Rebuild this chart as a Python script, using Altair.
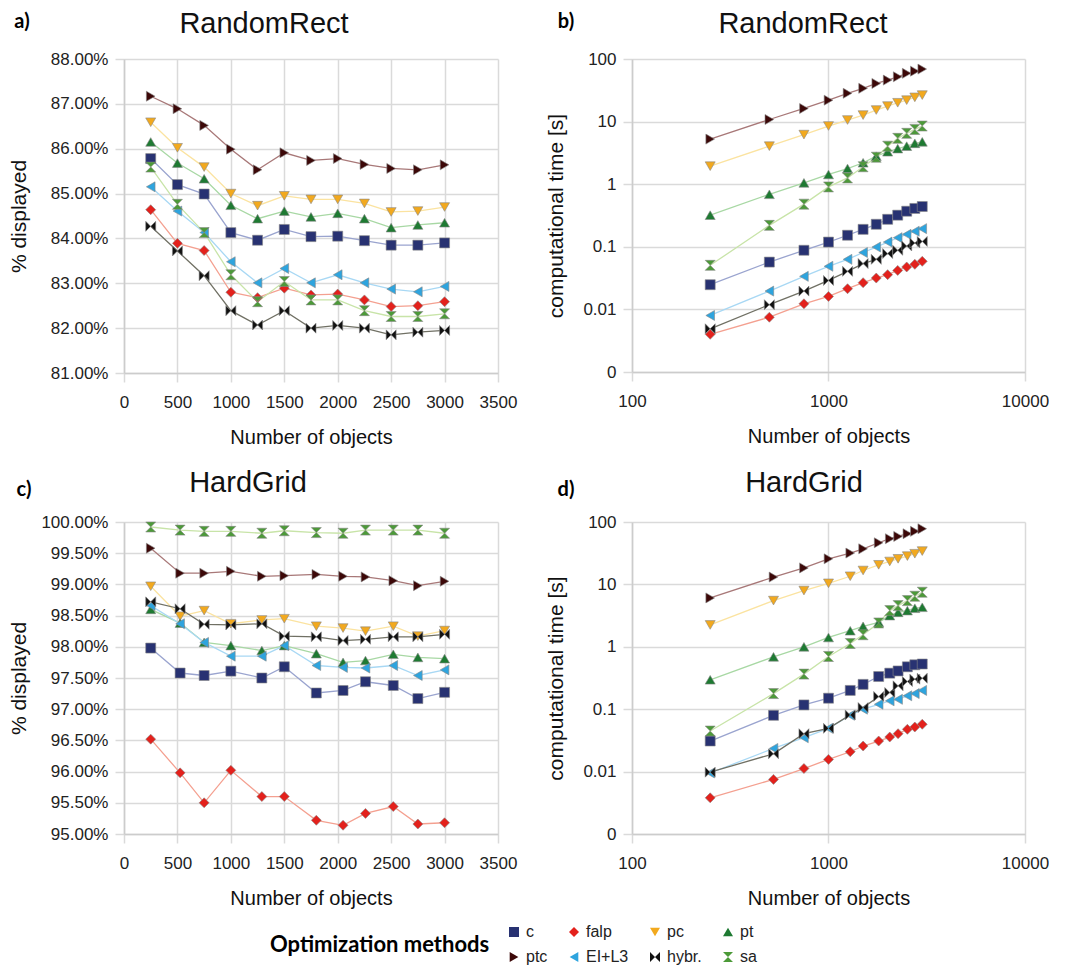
import altair as alt
import pandas as pd

methods = ["c", "falp", "pc", "pt", "ptc", "EI+L3", "hybr.", "sa"]
fill_colors = ["#283272", "#e3211c", "#f2a91e", "#1e7a32", "#3c0808", "#2ea4de", "#111111", "#4c9a38"]
line_colors = ["#9aa4cf", "#f4a090", "#fbe3a0", "#a8d8a4", "#a87878", "#a8d8f4", "#707064", "#c8e4a8"]
shapes = ["square", "diamond", "triangle-down", "triangle-up", "triangle-right", "triangle-left",
          "M-1,-1L1,1L1,-1L-1,1Z", "M-1,-1L1,-1L-1,1L1,1Z"]

x_rr = [250, 500, 750, 1000, 1250, 1500, 1750, 2000, 2250, 2500, 2750, 3000]
x_hg = [250, 525, 750, 1000, 1290, 1500, 1800, 2050, 2260, 2520, 2750, 3000]

# a) RandomRect, % displayed
a_c = [85.78, 85.20, 84.99, 84.13, 83.96, 84.20, 84.04, 84.05, 83.95, 83.85, 83.85, 83.90]
a_falp = [84.64, 83.89, 83.73, 82.80, 82.68, 82.89, 82.74, 82.76, 82.63, 82.48, 82.50, 82.59]
a_pc = [86.59, 86.02, 85.59, 85.00, 84.73, 84.95, 84.87, 84.87, 84.78, 84.59, 84.61, 84.70]
a_pt = [86.15, 85.68, 85.33, 84.74, 84.44, 84.61, 84.48, 84.56, 84.44, 84.24, 84.30, 84.35]
a_ptc = [87.17, 86.89, 86.52, 85.99, 85.53, 85.91, 85.74, 85.78, 85.65, 85.56, 85.53, 85.64]
a_ei = [85.15, 84.61, 84.13, 83.48, 83.01, 83.33, 83.01, 83.19, 83.01, 82.87, 82.81, 82.93]
a_hybr = [84.27, 83.72, 83.17, 82.39, 82.07, 82.39, 82.00, 82.06, 82.00, 81.85, 81.91, 81.95]
a_sa = [85.59, 84.76, 84.13, 83.19, 82.59, 83.04, 82.63, 82.63, 82.39, 82.26, 82.26, 82.32]

# b) RandomRect, computational time [s]
b_c = [0.0248, 0.057, 0.088, 0.119, 0.153, 0.19, 0.229, 0.275, 0.32, 0.37, 0.41, 0.44]
b_falp = [0.0040, 0.0075, 0.0123, 0.0161, 0.0214, 0.0267, 0.0317, 0.0359, 0.042, 0.0476, 0.0525, 0.0586]
b_pc = [1.94, 4.05, 6.2, 8.5, 10.6, 12.7, 15.3, 17.7, 20.0, 22.0, 24.4, 26.5]
b_pt = [0.32, 0.69, 1.05, 1.43, 1.78, 2.2, 2.8, 3.3, 3.7, 4.05, 4.5, 4.75]
b_ptc = [5.25, 10.8, 16.2, 22.0, 28.3, 34.0, 40.7, 46.0, 52.0, 59.0, 64.0, 69.0]
b_ei = [0.0080, 0.0196, 0.0337, 0.0488, 0.063, 0.081, 0.099, 0.119, 0.14, 0.158, 0.177, 0.195]
b_hybr = [0.0049, 0.0119, 0.0196, 0.029, 0.0405, 0.054, 0.063, 0.078, 0.088, 0.103, 0.115, 0.122]
b_sa = [0.0506, 0.22, 0.48, 0.905, 1.26, 1.9, 2.7, 4.05, 5.4, 6.5, 7.5, 8.5]

# c) HardGrid, % displayed
c_c = [97.98, 97.58, 97.54, 97.61, 97.50, 97.68, 97.26, 97.30, 97.44, 97.38, 97.17, 97.27]
c_falp = [96.52, 95.98, 95.50, 96.02, 95.60, 95.60, 95.22, 95.14, 95.33, 95.44, 95.16, 95.18]
c_pc = [98.97, 98.49, 98.58, 98.37, 98.43, 98.45, 98.33, 98.30, 98.25, 98.33, 98.17, 98.26]
c_pt = [98.60, 98.38, 98.07, 98.02, 97.94, 98.02, 97.89, 97.75, 97.78, 97.88, 97.83, 97.81]
c_ptc = [99.58, 99.18, 99.18, 99.21, 99.13, 99.14, 99.16, 99.13, 99.12, 99.06, 98.98, 99.05]
c_ei = [98.66, 98.37, 98.07, 97.85, 97.85, 98.02, 97.70, 97.67, 97.66, 97.70, 97.54, 97.63]
c_hybr = [98.72, 98.61, 98.36, 98.35, 98.37, 98.17, 98.16, 98.10, 98.12, 98.16, 98.16, 98.20]
c_sa = [99.92, 99.87, 99.85, 99.85, 99.82, 99.86, 99.83, 99.82, 99.87, 99.87, 99.87, 99.82]

# d) HardGrid, computational time [s]
d_c = [0.0309, 0.0798, 0.117, 0.15, 0.2, 0.25, 0.334, 0.378, 0.41, 0.478, 0.515, 0.53]
d_falp = [0.0038, 0.0075, 0.0112, 0.0157, 0.0208, 0.0257, 0.0309, 0.0358, 0.0405, 0.0476, 0.0518, 0.0573]
d_pc = [2.24, 5.5, 7.97, 10.4, 13.5, 16.7, 20.6, 23.3, 25.7, 28.4, 31.0, 34.2]
d_pt = [0.296, 0.69, 1.0, 1.41, 1.81, 2.13, 2.47, 3.16, 3.57, 3.8, 4.15, 4.3]
d_ptc = [6.07, 13.1, 18.4, 25.7, 31.8, 37.2, 46.5, 54.0, 58.8, 64.9, 70.8, 78.0]
d_ei = [0.0095, 0.0235, 0.0349, 0.0493, 0.0798, 0.1, 0.12, 0.136, 0.144, 0.164, 0.178, 0.2]
d_hybr = [0.0098, 0.0193, 0.0405, 0.0493, 0.081, 0.106, 0.16, 0.185, 0.237, 0.278, 0.303, 0.314]
d_sa = [0.0447, 0.178, 0.365, 0.70, 1.13, 1.56, 2.41, 3.8, 4.57, 5.5, 6.46, 7.5]

pct_ticks_a = [81, 82, 83, 84, 85, 86, 87, 88]
pct_ticks_c = [95, 95.5, 96, 96.5, 97, 97.5, 98, 98.5, 99, 99.5, 100]
lin_x_ticks = [0, 500, 1000, 1500, 2000, 2500, 3000, 3500]
log_x_ticks = [100, 1000, 10000]
log_y_ticks = [0.001, 0.01, 0.1, 1, 10, 100]

fill_scale = alt.Scale(domain=methods, range=fill_colors)
shape_scale = alt.Scale(domain=methods, range=shapes)
stroke_scale = alt.Scale(domain=methods, range=line_colors)


def frame(xs, series):
    rows = []
    for m, vals in zip(methods, series):
        for xv, yv in zip(xs, vals):
            rows.append({"method": m, "x": xv, "y": yv})
    return pd.DataFrame(rows)


def panel(df, tag, tag_xy, title, title_xy, log, xticks, yticks, ydomain, ytitle, ytp, w, h):
    if log:
        xs = alt.Scale(type="log", domain=[100, 10000])
        ys = alt.Scale(type="log", domain=[0.001, 100])
        ylab = "datum.value < 0.005 ? '0' : format(datum.value, '~g')"
    else:
        xs = alt.Scale(domain=[0, 3500], nice=False)
        ys = alt.Scale(domain=ydomain, nice=False, zero=False)
        ylab = "format(datum.value, '.2f') + '%'"
    xenc = alt.X("x:Q", scale=xs, axis=alt.Axis(values=xticks, labelExpr="format(datum.value, 'd')",
                                                 labelOverlap=False, labelFlush=False,
                                                 title="Number of objects"))
    yenc = alt.Y("y:Q", scale=ys, axis=alt.Axis(values=yticks, labelExpr=ylab, labelOverlap=False,
                                                 labelFlush=False, title=ytitle, titlePadding=ytp))
    base = alt.Chart(df)
    lines = base.mark_line(strokeWidth=1.3).encode(
        x=xenc, y=yenc,
        stroke=alt.Stroke("method:N", scale=stroke_scale, legend=None),
    )
    pts = base.mark_point(filled=True, size=100, stroke="#888888", strokeWidth=0.6, opacity=1).encode(
        x=xenc, y=yenc,
        fill=alt.Fill("method:N", scale=fill_scale, legend=None),
        shape=alt.Shape("method:N", scale=shape_scale, legend=None),
    )
    lab = alt.Chart(pd.DataFrame({"t": [tag]})).mark_text(
        font="Lato", fontSize=20, fontWeight="bold", color="#000000", align="center", baseline="middle"
    ).encode(text="t:N", x=alt.value(tag_xy[0]), y=alt.value(tag_xy[1]))
    ttl = alt.Chart(pd.DataFrame({"t": [title]})).mark_text(
        font="Liberation Sans", fontSize=29, color="#111111", align="center", baseline="middle"
    ).encode(text="t:N", x=alt.value(title_xy[0]), y=alt.value(title_xy[1]))
    return alt.layer(lines, pts, lab, ttl).properties(width=w, height=h)


pa = panel(frame(x_rr, [a_c, a_falp, a_pc, a_pt, a_ptc, a_ei, a_hybr, a_sa]), "a)", (-102, -37),
           "RandomRect", (140, -35), False, lin_x_ticks, pct_ticks_a, [81, 88], "% displayed", 21, 374, 314)
pb = panel(frame(x_rr, [b_c, b_falp, b_pc, b_pt, b_ptc, b_ei, b_hybr, b_sa]), "b)", (-66, -37),
           "RandomRect", (171, -35), True, log_x_ticks, log_y_ticks, None, "computational time [s]", 16,
           393, 313)
pc_ = panel(frame(x_hg, [c_c, c_falp, c_pc, c_pt, c_ptc, c_ei, c_hybr, c_sa]), "c)", (-100, -32),
            "HardGrid", (124, -39), False, lin_x_ticks, pct_ticks_c, [95, 100], "% displayed", 11, 374, 312)
pd_ = panel(frame(x_hg, [d_c, d_falp, d_pc, d_pt, d_ptc, d_ei, d_hybr, d_sa]), "d)", (-66, -32),
            "HardGrid", (172, -39), True, log_x_ticks, log_y_ticks, None, "computational time [s]", 16,
            393, 312)

legend = alt.Legend(
    title="Optimization methods", titleOrient="left", titleAnchor="middle", titleBaseline="middle",
    titleFont="Lato", titleFontSize=22, titleFontWeight="bold", titleColor="#000000", titleLimit=400,
    titlePadding=16, columns=4, columnPadding=18, rowPadding=9, direction="horizontal",
    labelFont="Liberation Sans", labelFontSize=16, labelColor="#222222",
    symbolSize=100, symbolStrokeColor="#888888", symbolStrokeWidth=0.6, symbolOpacity=1,
    orient="none", legendX=146, legendY=0,
)
leg = alt.Chart(pd.DataFrame({"method": methods})).mark_point(filled=True, opacity=0).encode(
    fill=alt.Fill("method:N", scale=fill_scale, legend=legend),
    shape=alt.Shape("method:N", scale=shape_scale, legend=legend),
).properties(width=1, height=1)

chart = alt.vconcat(
    alt.vconcat(
        alt.hconcat(pa, pb, spacing=28),
        alt.hconcat(pc_, pd_, spacing=28),
        spacing=22,
    ),
    leg,
    spacing=13,
).properties(
    padding={"left": 0, "top": 2, "right": 0, "bottom": 0}
).resolve_legend(
    fill="independent", shape="independent"
).configure_view(
    stroke=None
).configure_axis(
    grid=True, gridColor="#dadada", gridWidth=1.5,
    domainColor="#cccccc", domainWidth=1.5,
    tickColor="#dadada", tickWidth=1.5, tickSize=9,
    labelFont="Liberation Sans", labelFontSize=17, labelColor="#222222",
    titleFont="Liberation Sans", titleFontWeight="normal", titleColor="#111111",
).configure_axisX(
    labelPadding=12, titlePadding=17, titleFontSize=20,
).configure_axisY(
    labelPadding=7, titleFontSize=21,
)

chart.save("out.html", embed_options={"renderer": "svg", "actions": False})
